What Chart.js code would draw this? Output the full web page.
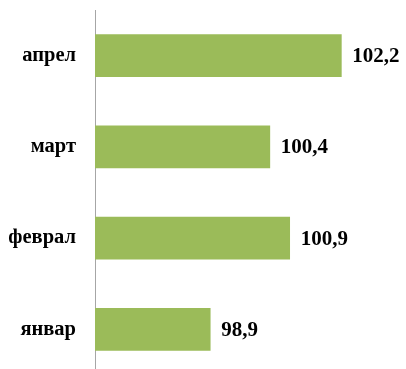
<!DOCTYPE html>
<html>
<head>
<meta charset="utf-8">
<script src="https://cdn.jsdelivr.net/npm/chart.js@4/dist/chart.umd.min.js"></script>
<style>
html,body{margin:0;padding:0;background:#fff;overflow:hidden;}
#wrap{width:406px;height:375px;position:relative;}
</style>
</head>
<body>
<div id="wrap"><canvas id="c"></canvas></div>
<script>
const categories = ['январ', 'феврал', 'март', 'апрел'];
const values = [98.9, 100.9, 100.4, 102.2];
const axisMin = 96;
const axisMax = 103.5;

const fontFamily = '"Liberation Serif", "Times New Roman", serif';

const valueLabels = {
  id: 'valueLabels',
  afterDatasetsDraw(chart) {
    const ctx = chart.ctx;
    const meta = chart.getDatasetMeta(0);
    ctx.save();
    ctx.font = 'bold 21px ' + fontFamily;
    ctx.fillStyle = '#000';
    ctx.textAlign = 'left';
    ctx.textBaseline = 'middle';
    meta.data.forEach((bar, i) => {
      const txt = values[i].toFixed(1).replace('.', ',');
      ctx.fillText(txt, bar.x + 11, bar.y + 1);
    });
    ctx.restore();
  }
};

new Chart(document.getElementById('c'), {
  type: 'bar',
  data: {
    labels: categories,
    datasets: [{
      data: values,
      backgroundColor: '#9BBB59',
      borderWidth: 0,
      barThickness: 42
    }]
  },
  options: {
    indexAxis: 'y',
    responsive: true,
    maintainAspectRatio: false,
    animation: false,
    layout: { padding: { top: 10, bottom: 0, left: 0, right: 13 } },
    plugins: { legend: { display: false }, tooltip: { enabled: false } },
    scales: {
      x: {
        display: false,
        min: axisMin,
        max: axisMax
      },
      y: {
        reverse: true,
        grid: { display: false, drawTicks: false },
        border: { display: true, color: '#A6A6A6', width: 1 },
        ticks: {
          color: '#000',
          padding: 19,
          font: { family: fontFamily, size: 20.5, weight: 'bold' }
        },
        afterFit(scale) {
          scale.width = 95;
          scale.paddingTop = 0;
          scale.paddingBottom = 0;
        }
      }
    }
  },
  plugins: [valueLabels]
});
</script>
</body>
</html>
